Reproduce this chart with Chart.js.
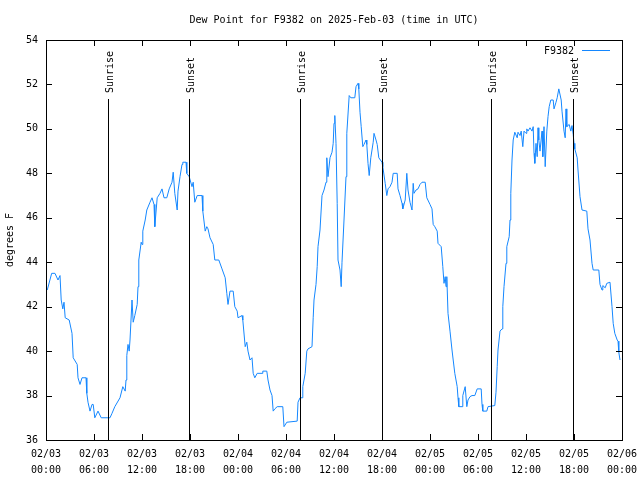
<!DOCTYPE html>
<html lang="en">
<head>
    <meta charset="UTF-8">
    <title>Dew Point for F9382</title>
    <script src="https://cdn.jsdelivr.net/npm/chart.js"></script>
    <style>
        body { margin: 0; padding: 0; background: #fff; }
        #wrap { width: 640px; height: 480px; }
    </style>
</head>
<body>
    <div id="wrap"><canvas id="dewChart" width="640" height="480"></canvas></div>
    <script>
        // hours since 02/03 00:00 UTC
        var hours = [
            0.16, 0.71, 1.12, 1.5, 1.75, 1.9, 2.1, 2.25, 2.4, 2.9, 3.25, 3.4, 3.9, 4.0, 4.25, 4.5, 5.0, 5.1, 5.25, 5.5,
            5.75, 5.9, 6.1, 6.5, 6.9, 8.0, 8.25, 8.6, 9.25, 9.6, 9.9, 10.0, 10.1, 10.25, 10.4, 10.5, 10.75, 10.9, 11.1, 11.4,
            11.5, 11.6, 11.9, 12.0, 12.1, 12.4, 12.6, 13.0, 13.25, 13.5, 13.6, 13.9, 14.25, 14.5, 14.75, 15.1, 15.4, 15.75, 15.9, 16.1,
            16.4, 16.5, 16.75, 17.0, 17.1, 17.5, 17.6, 17.9, 18.25, 18.4, 18.6, 18.9, 19.5, 19.6, 19.9, 20.1, 20.25, 20.5, 20.9, 21.1,
            21.6, 22.0, 22.4, 22.6, 22.75, 23.0, 23.4, 23.6, 23.9, 24.0, 24.5, 24.6, 24.9, 25.1, 25.25, 25.5, 25.75, 25.9, 26.1, 26.4,
            27.0, 27.1, 27.6, 27.75, 28.0, 28.25, 28.4, 28.6, 28.9, 29.6, 29.75, 30.1, 31.4, 31.5, 31.75, 32.0, 32.1, 32.4, 32.6, 32.75,
            33.25, 33.4, 33.5, 33.75, 33.9, 34.0, 34.25, 34.5, 34.75, 35.0, 35.1, 35.25, 35.5, 35.75, 35.9, 36.0, 36.1, 36.25, 36.4, 36.5,
            36.75, 36.9, 37.0, 37.25, 37.5, 37.6, 37.9, 38.1, 38.6, 38.75, 39.0, 39.1, 39.25, 39.4, 39.6, 39.75, 40.0, 40.1, 40.25, 40.4,
            40.6, 40.9, 41.0, 41.25, 41.4, 41.6, 42.0, 42.1, 42.4, 42.6, 42.75, 43.0, 43.25, 43.4, 43.9, 44.0, 44.25, 44.5, 44.6, 44.9,
            45.1, 45.25, 45.5, 45.75, 45.9, 46.0, 46.25, 46.5, 46.75, 47.0, 47.4, 47.6, 48.0, 48.25, 48.4, 48.6, 48.9, 49.0, 49.4, 49.6,
            49.75, 49.9, 50.0, 50.1, 50.25, 50.5, 50.75, 50.9, 51.1, 51.4, 51.5, 51.6, 52.0, 52.1, 52.4, 52.6, 52.75, 53.0, 53.25, 53.6,
            53.9, 54.4, 54.5, 54.6, 55.1, 55.25, 56.1, 56.25, 56.4, 56.5, 56.75, 57.0, 57.1, 57.25, 57.5, 57.6, 57.9, 58.0, 58.1, 58.25,
            58.4, 58.6, 58.9, 59.0, 59.25, 59.4, 59.6, 59.75, 60.0, 60.1, 60.25, 60.5, 60.75, 60.9, 61.0, 61.1, 61.25, 61.4, 61.5, 61.6,
            61.75, 62.0, 62.1, 62.25, 62.4, 62.6, 62.75, 62.9, 63.1, 63.4, 63.5, 63.75, 63.9, 64.1, 64.4, 64.5, 64.75, 64.9, 65.0, 65.1,
            65.4, 65.6, 65.75, 65.9, 66.0, 66.1, 66.4, 66.5, 66.75, 67.0, 67.6, 67.75, 68.0, 68.25, 68.4, 69.1, 69.25, 69.5, 69.6, 69.9,
            70.1, 70.5, 70.75, 70.9, 71.1, 71.4, 71.5, 71.6, 71.75
        ];
        var dewPoint = [
            42.75, 43.5, 43.5, 43.2, 43.4, 42.3, 41.9, 42.2, 41.5, 41.4, 40.8, 39.7, 39.4, 38.8, 38.5, 38.8, 38.8, 38.1, 37.7, 37.3,
            37.6, 37.6, 37.0, 37.3, 37.0, 37.0, 37.2, 37.5, 37.9, 38.4, 38.2, 38.7, 39.8, 40.3, 40.0, 40.5, 42.3, 41.3, 41.6, 42.1,
            42.9, 44.1, 44.9, 44.8, 45.4, 45.9, 46.35, 46.7, 46.9, 46.6, 45.6, 46.9, 47.1, 47.3, 46.9, 46.9, 47.3, 47.6, 48.05, 47.1,
            46.35, 47.2, 47.85, 48.4, 48.5, 48.5, 48.0, 47.85, 47.4, 47.6, 46.7, 47.0, 47.0, 46.3, 45.4, 45.6, 45.5, 45.1, 44.8, 44.1,
            44.1, 43.7, 43.3, 42.6, 42.1, 42.7, 42.7, 42.0, 41.8, 41.5, 41.6, 41.4, 40.2, 40.4, 40.0, 39.6, 39.7, 39.0, 38.8, 39.0,
            39.0, 39.1, 39.1, 38.7, 38.25, 38.0, 37.3, 37.4, 37.5, 37.5, 36.6, 36.8, 36.85, 37.7, 37.9, 37.9, 38.4, 39.0, 40.0, 40.1,
            40.2, 41.5, 42.3, 43.0, 43.8, 44.7, 45.45, 47.0, 47.25, 47.6, 48.7, 47.85, 48.7, 48.95, 49.35, 50.25, 50.6, 49.35, 46.65, 44.1,
            43.65, 42.9, 44.0, 45.9, 47.85, 49.8, 51.5, 51.4, 51.4, 51.9, 52.05, 51.8, 50.75, 50.1, 49.2, 49.3, 49.5, 49.3, 48.45, 47.9,
            48.7, 49.4, 49.8, 49.5, 49.3, 48.7, 48.5, 48.3, 47.55, 47.0, 47.3, 47.4, 47.6, 48.0, 48.0, 47.3, 47.0, 46.65, 46.4, 46.8,
            48.0, 47.25, 46.7, 46.35, 47.55, 47.1, 47.25, 47.3, 47.5, 47.6, 47.6, 46.9, 46.6, 46.4, 45.7, 45.6, 45.4, 44.85, 44.7, 43.8,
            43.05, 43.35, 42.9, 43.35, 41.7, 40.9, 40.05, 39.6, 39.0, 38.4, 37.9, 37.5, 37.5, 38.0, 38.4, 37.5, 37.8, 37.95, 38.0, 38.0,
            38.3, 38.3, 37.6, 37.3, 37.3, 37.5, 37.55, 38.15, 39.3, 40.05, 40.9, 41.0, 42.0, 42.9, 43.95, 44.7, 45.15, 45.9, 47.1, 48.6,
            49.5, 49.85, 49.6, 49.85, 49.7, 49.9, 49.2, 49.9, 49.8, 50.0, 49.9, 50.05, 49.9, 50.1, 48.9, 48.45, 49.35, 48.75, 50.05, 49.5,
            49.0, 49.9, 48.75, 50.1, 48.3, 49.9, 50.55, 51.0, 51.3, 51.3, 50.9, 51.2, 51.4, 51.8, 51.3, 50.8, 49.9, 49.6, 50.9, 50.1,
            50.2, 49.9, 50.15, 49.75, 49.35, 49.1, 48.7, 48.15, 46.95, 46.35, 46.3, 45.5, 45.0, 43.95, 43.65, 43.65, 43.0, 42.75, 42.95, 42.85,
            43.05, 43.1, 42.0, 41.25, 40.8, 40.5, 40.45, 39.95, 39.6
        ];
        var xTickLabels = [
            ['02/03', '00:00'], ['02/03', '06:00'], ['02/03', '12:00'], ['02/03', '18:00'],
            ['02/04', '00:00'], ['02/04', '06:00'], ['02/04', '12:00'], ['02/04', '18:00'],
            ['02/05', '00:00'], ['02/05', '06:00'], ['02/05', '12:00'], ['02/05', '18:00'],
            ['02/06', '00:00']
        ];
        var sunTimes = [7.8, 17.92, 31.78, 41.95, 55.67, 65.92];
        var sunLabels = ['Sunrise', 'Sunset', 'Sunrise', 'Sunset', 'Sunrise', 'Sunset'];
        var seriesName = 'F9382';

        var monoFont = { family: 'DejaVu Sans Mono', size: 10 };
        var lineColor = 'rgb(20, 135, 255)';

        var points = hours.map(function (h, i) { return { x: h, y: dewPoint[i] }; });

        // gnuplot-like frame, inward ticks, sunrise/sunset markers and key
        var gnuplotFrame = {
            id: 'gnuplotFrame',
            afterDraw: function (chart) {
                var ctx = chart.ctx;
                var area = chart.chartArea;
                var xs = chart.scales.x;
                var ys = chart.scales.y;
                ctx.save();
                ctx.strokeStyle = '#000';
                ctx.lineWidth = 1;
                ctx.strokeRect(Math.round(area.left) + 0.5, Math.round(area.top) + 0.5,
                    Math.round(area.right - area.left), Math.round(area.bottom - area.top));

                ctx.beginPath();
                xs.ticks.forEach(function (t) {
                    var px = Math.round(xs.getPixelForValue(t.value)) + 0.5;
                    var len = (t.value % 6 === 0) ? 6 : 3;
                    ctx.moveTo(px, area.bottom); ctx.lineTo(px, area.bottom - len);
                    ctx.moveTo(px, area.top); ctx.lineTo(px, area.top + len);
                });
                ys.ticks.forEach(function (t) {
                    var py = Math.round(ys.getPixelForValue(t.value)) + 0.5;
                    ctx.moveTo(area.left, py); ctx.lineTo(area.left + 6, py);
                    ctx.moveTo(area.right, py); ctx.lineTo(area.right - 6, py);
                });
                ctx.stroke();

                // sunrise / sunset
                ctx.font = '10px "DejaVu Sans Mono"';
                ctx.fillStyle = '#000';
                sunTimes.forEach(function (t, i) {
                    var px = Math.round(xs.getPixelForValue(t)) + 0.5;
                    ctx.beginPath();
                    ctx.moveTo(px, area.top + 59);
                    ctx.lineTo(px, area.bottom);
                    ctx.stroke();
                    ctx.save();
                    ctx.translate(px + 4, area.top + 53);
                    ctx.rotate(-Math.PI / 2);
                    ctx.textAlign = 'left';
                    ctx.textBaseline = 'alphabetic';
                    ctx.fillText(sunLabels[i], 0, 0);
                    ctx.restore();
                });

                // key
                ctx.textAlign = 'right';
                ctx.textBaseline = 'middle';
                ctx.fillText(seriesName, area.right - 48, area.top + 11);
                ctx.strokeStyle = lineColor;
                ctx.beginPath();
                ctx.moveTo(area.right - 40, area.top + 10.5);
                ctx.lineTo(area.right - 12, area.top + 10.5);
                ctx.stroke();
                ctx.restore();
            }
        };

        new Chart(document.getElementById('dewChart').getContext('2d'), {
            type: 'line',
            data: {
                datasets: [{
                    label: seriesName,
                    data: points,
                    borderColor: lineColor,
                    borderWidth: 1,
                    pointRadius: 0,
                    tension: 0,
                    fill: false
                }]
            },
            options: {
                responsive: false,
                animation: false,
                devicePixelRatio: 1,
                layout: { padding: { left: 0, right: 18, top: 0, bottom: 0 } },
                plugins: {
                    legend: { display: false },
                    tooltip: { enabled: false },
                    title: {
                        display: true,
                        text: 'Dew Point for F9382 on 2025-Feb-03 (time in UTC)',
                        color: '#000',
                        fullSize: false,
                        font: { family: 'DejaVu Sans Mono', size: 10, weight: 'normal', lineHeight: 1.2 },
                        padding: { top: 14, bottom: 14 }
                    }
                },
                scales: {
                    x: {
                        type: 'linear',
                        min: 0,
                        max: 72,
                        grid: { display: false, drawTicks: false, tickLength: 0 },
                        border: { display: false },
                        ticks: {
                            stepSize: 2,
                            autoSkip: false,
                            maxRotation: 0,
                            padding: 6,
                            color: '#000',
                            font: { family: 'DejaVu Sans Mono', size: 10, lineHeight: 1.6 },
                            callback: function (value) {
                                if (value % 6 !== 0) return null;
                                return xTickLabels[value / 6];
                            }
                        },
                        afterFit: function (scale) {
                            scale.height = 40;
                            scale.paddingLeft = 0;
                            scale.paddingRight = 0;
                        }
                    },
                    y: {
                        min: 36,
                        max: 54,
                        grid: { display: false, drawTicks: false, tickLength: 0 },
                        border: { display: false },
                        ticks: { stepSize: 2, padding: 8, color: '#000', font: monoFont },
                        title: {
                            display: true,
                            text: 'degrees F',
                            color: '#000',
                            font: monoFont,
                            padding: { top: 4, bottom: 0 }
                        },
                        afterFit: function (scale) {
                            scale.width = 46;
                            scale.paddingTop = 0;
                            scale.paddingBottom = 0;
                        }
                    }
                }
            },
            plugins: [gnuplotFrame]
        });
    </script>
</body>
</html>
